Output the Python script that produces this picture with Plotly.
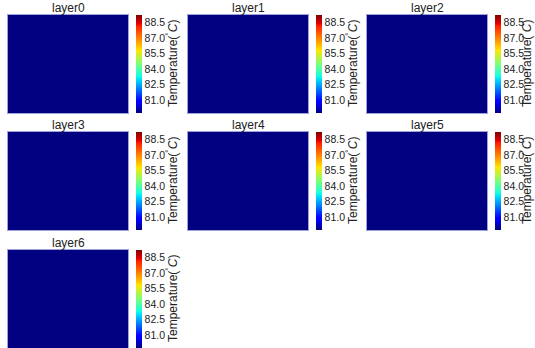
import numpy as np
import plotly.graph_objects as go

# Per-layer temperature fields (deg C), 7 layers on a small grid
layer_names = ["layer0", "layer1", "layer2", "layer3", "layer4", "layer5", "layer6"]
layer_temps = [79.75, 79.75, 79.75, 79.75, 79.75, 79.75, 79.75]
grid_rows = 20
grid_cols = 24

# Shared colour range and colourbar ticks
t_min = 79.75
t_max = 89.25
tick_vals = [81.0, 82.5, 84.0, 85.5, 87.0, 88.5]
cbar_label = "Temperature(<sup>°</sup><i>C</i>)"

# matplotlib-style jet colourmap
jet = [
    [0.0, "rgb(0,0,128)"],
    [0.11, "rgb(0,0,255)"],
    [0.125, "rgb(0,0,255)"],
    [0.34, "rgb(0,220,255)"],
    [0.35, "rgb(0,229,246)"],
    [0.375, "rgb(20,255,226)"],
    [0.5, "rgb(124,255,121)"],
    [0.64, "rgb(255,230,0)"],
    [0.65, "rgb(255,220,0)"],
    [0.89, "rgb(255,30,0)"],
    [0.91, "rgb(230,0,0)"],
    [1.0, "rgb(128,0,0)"],
]

W, H = 535, 348
col_left = [8, 188, 367]
panel_w = 120
row_top = [15, 132, 250]
panel_h = 98
cbar_gap = 8
label_offset = 164   # colourbar label centre, from panel left edge

fig = go.Figure()
layout = dict(
    width=W, height=H,
    margin=dict(l=0, r=0, t=0, b=0, autoexpand=False),
    paper_bgcolor="white", plot_bgcolor="white",
    showlegend=False,
    font=dict(family="Liberation Sans, Arial, sans-serif", size=11, color="#222"),
    annotations=[],
)

for i, (name, temp) in enumerate(zip(layer_names, layer_temps)):
    r, c = divmod(i, 3)
    x0 = col_left[c] / W
    x1 = (col_left[c] + panel_w) / W
    y1 = 1 - row_top[r] / H
    y0 = 1 - (row_top[r] + panel_h) / H
    xa = "xaxis" if i == 0 else f"xaxis{i + 1}"
    ya = "yaxis" if i == 0 else f"yaxis{i + 1}"
    xr = "x" if i == 0 else f"x{i + 1}"
    yr = "y" if i == 0 else f"y{i + 1}"

    z = np.full((grid_rows, grid_cols), temp)
    fig.add_trace(go.Heatmap(
        z=z, xaxis=xr, yaxis=yr,
        colorscale=jet, zmin=t_min, zmax=t_max,
        hoverinfo="skip",
        colorbar=dict(
            x=(col_left[c] + panel_w + cbar_gap) / W, xanchor="left",
            y=(y0 + y1) / 2, yanchor="middle",
            len=panel_h / H, lenmode="fraction",
            thickness=6, thicknessmode="pixels",
            outlinewidth=0,
            tickvals=tick_vals, tickformat=".1f",
            ticks="", ticklen=0, ticklabelposition="outside",
            tickfont=dict(size=10.5, color="#222"),
            xpad=0, ypad=0,
        ),
    ))
    axis_common = dict(showticklabels=False, ticks="", showgrid=False,
                       zeroline=False, showline=True, linewidth=1,
                       linecolor="rgba(150,150,215,0.9)", mirror=True)
    layout[xa] = dict(domain=[x0, x1], anchor=yr, range=[-0.5, grid_cols - 0.5],
                      **axis_common)
    layout[ya] = dict(domain=[y0, y1], anchor=xr, range=[-0.5, grid_rows - 0.5],
                      **axis_common)
    layout["annotations"].append(dict(
        text=name, x=(x0 + x1) / 2, y=y1, xref="paper", yref="paper",
        xanchor="center", yanchor="bottom", showarrow=False, yshift=-2,
        font=dict(size=12, color="#222"),
    ))
    label_x = min(col_left[c] + label_offset, W - 9)
    layout["annotations"].append(dict(
        text=cbar_label, x=label_x / W, y=(y0 + y1) / 2,
        xref="paper", yref="paper", xanchor="center", yanchor="middle",
        textangle=-90, showarrow=False, borderpad=0,
        font=dict(size=12, color="#222"),
    ))

fig.update_layout(**layout)
fig.write_html("out.html")
